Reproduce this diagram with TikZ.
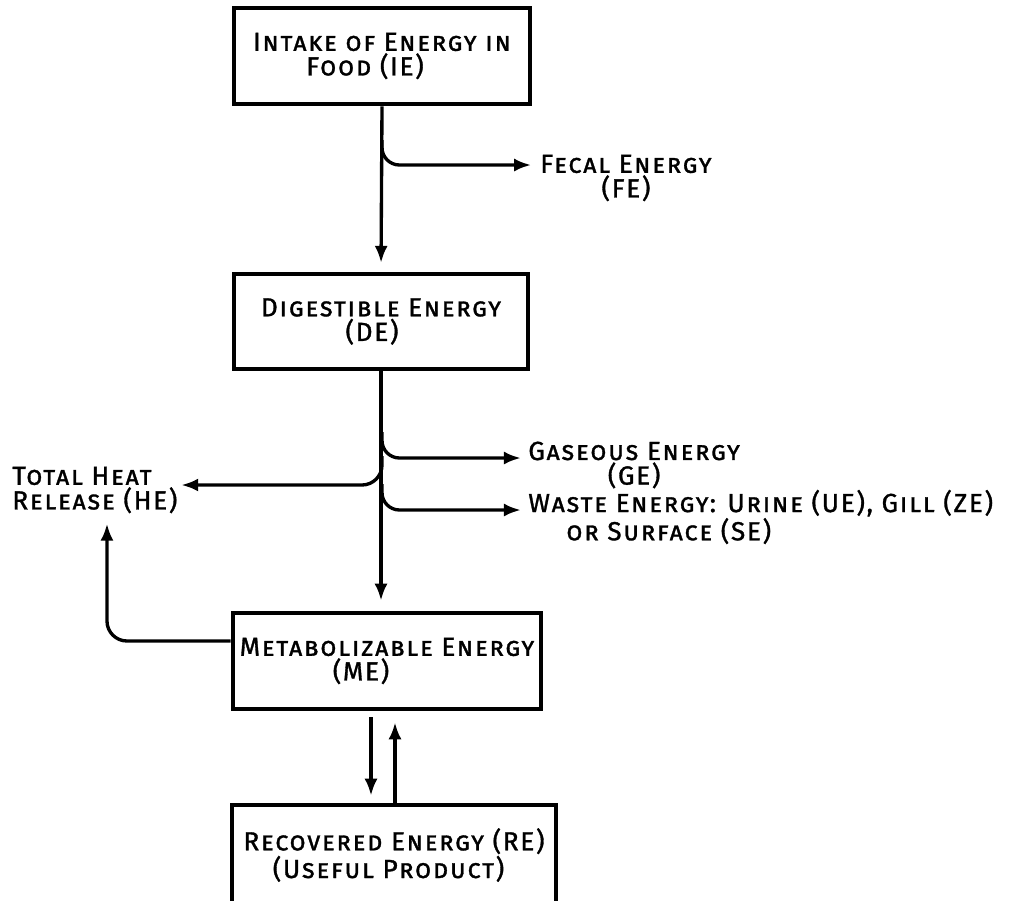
\documentclass[tikz,border=0pt]{standalone}
\usepackage{fontspec}
\setmainfont{Fira Sans}[LetterSpace=6.5,FakeBold=1.2]
\usetikzlibrary{arrows.meta}
\tikzset{
  box/.style={draw,line width=2.6pt,align=center,inner sep=0pt},
  lbl/.style={inner sep=0pt},
  flow/.style={line width=1.9pt,-{Latex[length=0.34cm,width=0.26cm]}},
  every node/.style={font=\fontsize{14.9}{14}\selectfont\scshape}
}
\begin{document}
\begin{tikzpicture}[x=0.02cm,y=-0.02cm]
\useasboundingbox (0,0) rectangle (1018,900);

\node[box,minimum width=5.92cm,minimum height=1.92cm] (ie) at (382,56) {Intake of Energy in\\Food (IE)\hspace*{0.68cm}};
\node[box,minimum width=5.88cm,minimum height=1.9cm] (de) at (381,321.5) {Digestible Energy\\(DE)\hspace*{0.36cm}};
\node[box,minimum width=6.16cm,minimum height=1.92cm] (me) at (387,661) {Metabolizable Energy\\(ME)\hspace*{1.04cm}};
\node[box,minimum width=6.48cm,minimum height=2cm] (re) at (394,855) {Recovered Energy (RE)\\(Useful Product)\hspace*{0.22cm}};

\node[lbl,anchor=west,align=center] (fe) at (540,178) {Fecal Energy\\(FE)};
\node[lbl,anchor=west,align=center] (ge) at (528,465) {Gaseous Energy\\(GE)};
\node[lbl,anchor=west,align=left] (we) at (528,517) {Waste Energy: Urine (UE), Gill (ZE)\\\hspace*{0.76cm}or Surface (SE)};
\node[lbl,anchor=west,align=left] (he) at (12,490) {Total Heat\\Release (HE)};

\coordinate (fk) at (382,140);
\coordinate (gk) at (382,432);
\coordinate (hk) at (382,456);
\coordinate (wk) at (382,484);

\draw[flow,shorten >=5pt] (ie.south) -- (de.north);
\draw[flow,rounded corners=0.35cm,shorten >=5pt] (fk) |- ([yshift=0.26cm]fe.west);

\draw[flow,shorten >=0.2cm] (de.south) -- (de.south |- me.north);
\draw[flow,rounded corners=0.35cm,shorten >=4pt] (gk) |- ([yshift=0.14cm]ge.west);
\draw[flow,rounded corners=0.35cm,shorten >=4pt] (wk) |- ([yshift=0.14cm]we.west);
\draw[flow,rounded corners=0.4cm,shorten >=2pt] (hk) |- ([yshift=0.1cm]he.east);

\draw[flow,rounded corners=0.4cm,shorten >=0.2cm] ([yshift=0.4cm]me.west) -| ([xshift=1.9cm]he.south west);
\draw[flow,shorten <=0.12cm,shorten >=0.14cm] ([xshift=-0.32cm]me.south) -- ([xshift=-0.32cm]me.south |- re.north);
\draw[flow,shorten >=0.22cm] ([xshift=0.16cm]me.south |- re.north) -- ([xshift=0.16cm]me.south);
\end{tikzpicture}
\end{document}
